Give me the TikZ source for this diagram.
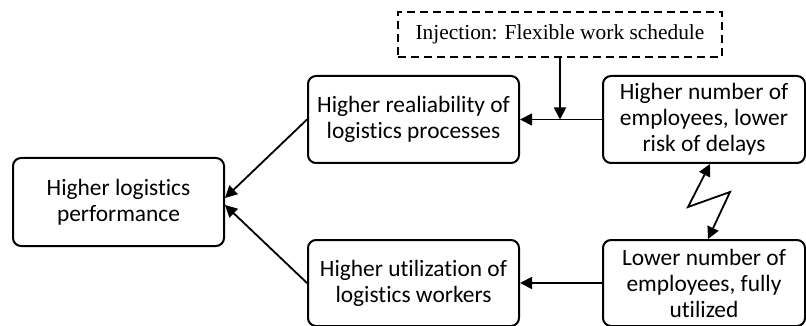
\documentclass[tikz,border=0pt]{standalone}
\usepackage{fontspec}
\setmainfont{Carlito}[Ligatures=NoCommon]
\newfontfamily\injfont{Liberation Serif}
\usetikzlibrary{arrows.meta}

\begin{document}
\begin{tikzpicture}[x=1pt,y=-1pt,
  box/.style={draw, line width=2pt, rounded corners=8pt, align=center, inner sep=0pt,
    font=\fontsize{23.4}{26}\selectfont},
  arr/.style={line width=1.8pt, -{Triangle[length=12pt,width=12pt]}},
  dblarr/.style={line width=1.8pt, {Triangle[length=12pt,width=12pt]}-{Triangle[length=12pt,width=12pt]}}]

\useasboundingbox (0,0) rectangle (806,326);

% boxes
 \node[box, minimum width=211pt, minimum height=88pt] (perf) at (118.5,202) {Higher logistics\\performance};
 \node[box, minimum width=211pt, minimum height=87pt] (rel) at (413.5,119.5) {Higher realiability of\\logistics processes};
 \node[box, minimum width=211pt, minimum height=86pt] (util) at (413.5,283) {Higher utilization of\\logistics workers};
 \node[box, minimum width=202pt, minimum height=87pt] (hi) at (704,119.5) {Higher number of\\employees, lower\\risk of delays};
 \node[box, minimum width=202pt, minimum height=86pt] (lo) at (704,283) {Lower number of\\employees, fully\\utilized};

 \node[draw, line width=2pt, dash pattern=on 8pt off 5pt, minimum width=324pt, minimum height=45pt,
   inner sep=0pt, font=\injfont\fontsize{21.4}{25}\selectfont] (inj) at (560,34.5) {Injection: Flexible work schedule};

% arrows
 \draw[arr] (hi.west) -- (rel.east);
 \draw[arr] (lo.west) -- (util.east);
 \draw[arr] (inj.south) -- (inj.south |- rel.east);
 \draw[arr] (rel.west) -- ([yshift=4pt]perf.east);
 \draw[arr] (util.west) -- ([yshift=-3pt]perf.east);

% conflict
 \coordinate (z1) at (688,207);
 \coordinate (z2) at (730,192);
 \draw[dblarr] ([xshift=6pt]hi.south) -- (z1) -- (z2) -- ([xshift=4pt]lo.north);

\end{tikzpicture}
\end{document}
